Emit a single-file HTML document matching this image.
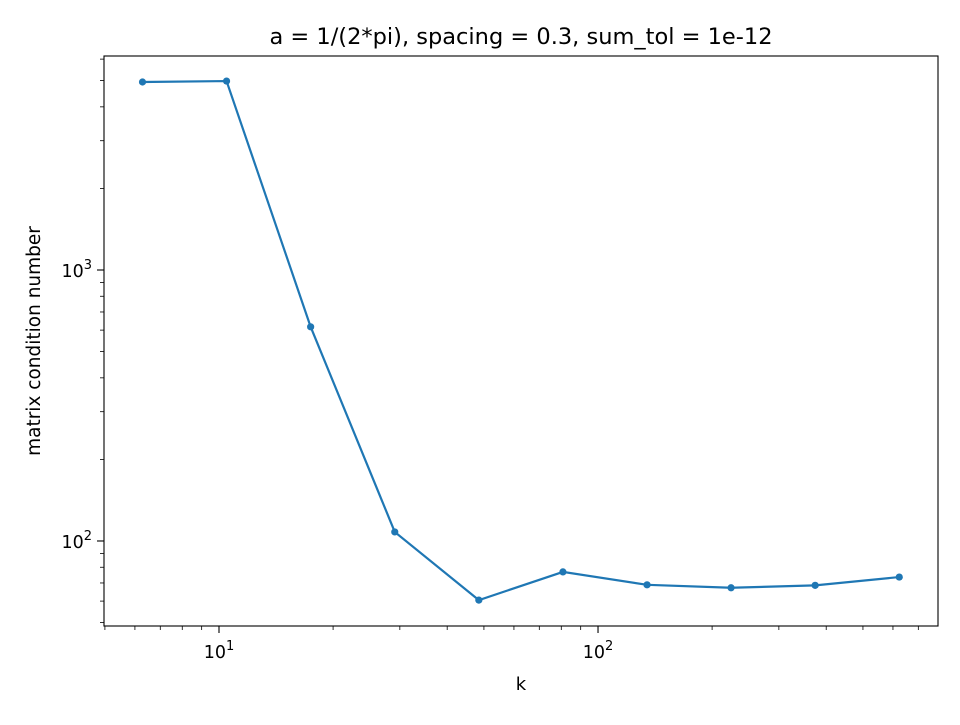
<!DOCTYPE html>
<html><head><meta charset="utf-8"><style>
body{margin:0;background:#fff;font-family:"Liberation Sans","DejaVu Sans",sans-serif}
text{font-family:"DejaVu Sans","Liberation Sans",sans-serif;fill:#000}
</style></head><body>
<svg id="chart" width="960" height="720" xmlns="http://www.w3.org/2000/svg">
<rect width="960" height="720" fill="#fff"/>
<g id="ticks"></g>
<path id="series-line" fill="none" stroke="#1f77b4" stroke-width="2.2"/>
<g id="points"></g>
<rect x="104" y="56" width="834" height="570" fill="none" stroke="#000" stroke-width="1.1"/>
<text x="521" y="44" font-size="22.5" text-anchor="middle">a = 1/(2*pi), spacing = 0.3, sum_tol = 1e-12</text>
<text x="521" y="690" font-size="18" text-anchor="middle">k</text>
<text transform="translate(40,341) rotate(-90)" font-size="18.5" text-anchor="middle">matrix condition number</text>
</svg>
<script>
const kValues=[6.283,10.47,17.45,29.09,48.48,80.80,134.7,224.4,374.0,623.4];
const condValues=[4940,4980,617,108,60.5,76.9,68.9,67.2,68.6,73.6];
const xMajorTicks=[10,100];
const yMajorTicks=[100,1000];
const X0=104,X1=938,Y0=626,Y1=56;
const xLmin=0.6966,xLmax=2.897,yLmin=1.6863,yLmax=3.7897;
function xs(v){return X0+(Math.log10(v)-xLmin)/(xLmax-xLmin)*(X1-X0);}
function ys(v){return Y0-(Math.log10(v)-yLmin)/(yLmax-yLmin)*(Y0-Y1);}
const NS="http://www.w3.org/2000/svg";
const tg=document.getElementById('ticks');
function el(t,a,p){const e=document.createElementNS(NS,t);for(const k in a)e.setAttribute(k,a[k]);(p||tg).appendChild(e);return e;}
for(let d=0;d<=3;d++)for(let m=1;m<10;m++){const v=m*Math.pow(10,d);const px=xs(v);if(px<X0-0.5||px>X1+0.5)continue;
const major=m===1;const l=el('line',{x1:px,x2:px,y1:Y0,y2:Y0+(major?7:4),stroke:'#000','stroke-width':major?1.1:0.8});

}
xMajorTicks.forEach(v=>{const t=el('text',{x:xs(v),y:Y0+32,'font-size':'17.5','text-anchor':'middle'});


t.innerHTML='10<tspan dy="-8" font-size="13">'+Math.round(Math.log10(v))+'</tspan>';});
for(let d=1;d<=3;d++)for(let m=1;m<10;m++){const v=m*Math.pow(10,d);const py=ys(v);if(py<Y1-0.5||py>Y0+0.5)continue;
const major=m===1;const l=el('line',{x1:X0-(major?7:4),x2:X0,y1:py,y2:py,stroke:'#000','stroke-width':major?1.1:0.8});

}
yMajorTicks.forEach(v=>{const t=el('text',{x:X0-12,y:ys(v)+7,'font-size':'17.5','text-anchor':'end'});


t.innerHTML='10<tspan dy="-8" font-size="13">'+Math.round(Math.log10(v))+'</tspan>';});
document.getElementById('series-line').setAttribute('d',kValues.map((k,i)=>(i?'L':'M')+xs(k)+','+ys(condValues[i])).join(''));
const pg=document.getElementById('points');
kValues.forEach((k,i)=>{const c=el('circle',{cx:xs(k),cy:ys(condValues[i]),r:3.6,fill:'#1f77b4'},pg);

});
</script>
</body></html>
